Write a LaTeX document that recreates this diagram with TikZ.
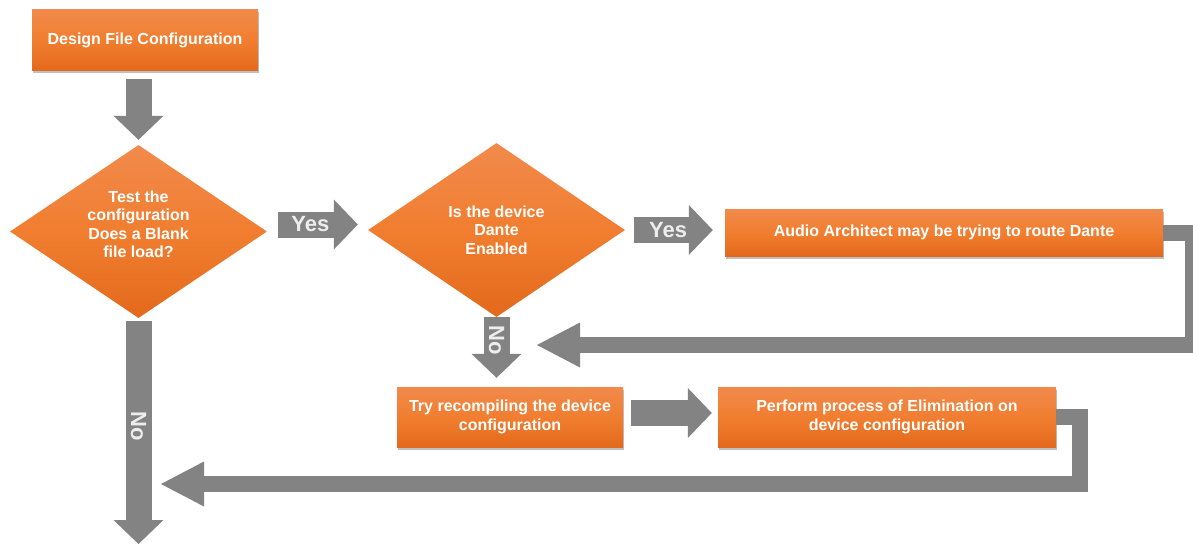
\documentclass[tikz,border=0pt]{standalone}
\usepackage{fontspec}
\setmainfont{Liberation Sans}
\usepackage{tikz}
\usetikzlibrary{arrows.meta,shapes.geometric,shadows,calc}
\definecolor{orTop}{HTML}{F18A4C}
\definecolor{orMid}{HTML}{F17E30}
\definecolor{orBot}{HTML}{E3691C}
\definecolor{arrGray}{HTML}{838383}
\tikzstyle{word} = [text=white!93!black, font=\fontsize{22}{22}\selectfont\bfseries]

\begin{document}
\begin{tikzpicture}[x=1pt, y=-1pt,
  box/.style = {shape=rectangle, inner sep=2pt, align=center, text=white,
    font=\fontsize{16}{18.5}\selectfont\bfseries,
    top color=orTop, bottom color=orBot, middle color=orMid,
    drop shadow={shadow xshift=1pt, shadow yshift=-2.5pt, opacity=0.5}},
  decision/.style = {shape=diamond, aspect=1.5, inner sep=0pt, align=center, text=white,
    font=\fontsize{16}{18.5}\selectfont\bfseries,
    top color=orTop, bottom color=orBot, middle color=orMid},
  fat/.style = {draw=arrGray, line width=26pt,
    -{Triangle[length=24pt, width=50pt, line width=0pt]}},
  loopback/.style = {draw=arrGray, line width=16pt, line join=miter,
    -{Triangle[length=43pt, width=45pt, line width=0pt]}}]
  \useasboundingbox (0,0) rectangle (1193,544);

  \node[box, minimum width=226pt, minimum height=61pt] (design) at (145,40) {Design File Configuration};
  \node[decision, minimum width=257pt, minimum height=173pt, text depth=15pt] (blank) at (138.5,231.5)
    {Test the\\configuration\\Does a Blank\\file load?};
  \node[decision, minimum width=257pt, minimum height=174pt] (dante) at (496.5,230)
    {Is the device\\Dante\\Enabled};
  \node[box, minimum width=438pt, minimum height=47pt] (route) at (944,232.5)
    {Audio Architect may be trying to route Dante};
  \node[box, minimum width=226pt, minimum height=60pt] (recompile) at (510,417)
    {Try recompiling the device\\configuration};
  \node[box, minimum width=338pt, minimum height=60pt] (eliminate) at (887,417)
    {Perform process of Elimination on\\device configuration};
  \coordinate (bottom) at (138.5,544);
  \coordinate (retry) at (537,345);
  \coordinate (restart) at (161,484);

  \draw[fat, shorten <=8pt, shorten >=5pt] (design.south -| blank.north) -- (blank.north);
  \draw[fat, shorten <=11pt, shorten >=10pt] ([yshift=7pt]blank.east) -- ([yshift=7pt]blank.east -| dante.west)
    node[word, pos=0.43] {Yes};
  \draw[fat, shorten <=9pt, shorten >=12pt] (dante.east) -- (dante.east -| route.west)
    node[word, pos=0.43] {Yes};
  \draw[fat, shorten >=9pt] (dante.south) -- (dante.south |- recompile.north)
    node[word, rotate=-90, pos=0.33] {No};
  \draw[fat, shorten <=8pt, shorten >=6pt] ([yshift=4pt]recompile.east) -- ([yshift=4pt]recompile.east -| eliminate.west);
  \draw[fat, shorten <=3pt] (blank.south) -- (bottom)
    node[word, rotate=-90, pos=0.48] {No};

  \draw[loopback] (route.east) -- ++(30,0) |- (retry);
  \draw[loopback] (eliminate.east) -- ++(24,0) |- (restart);
\end{tikzpicture}
\end{document}
